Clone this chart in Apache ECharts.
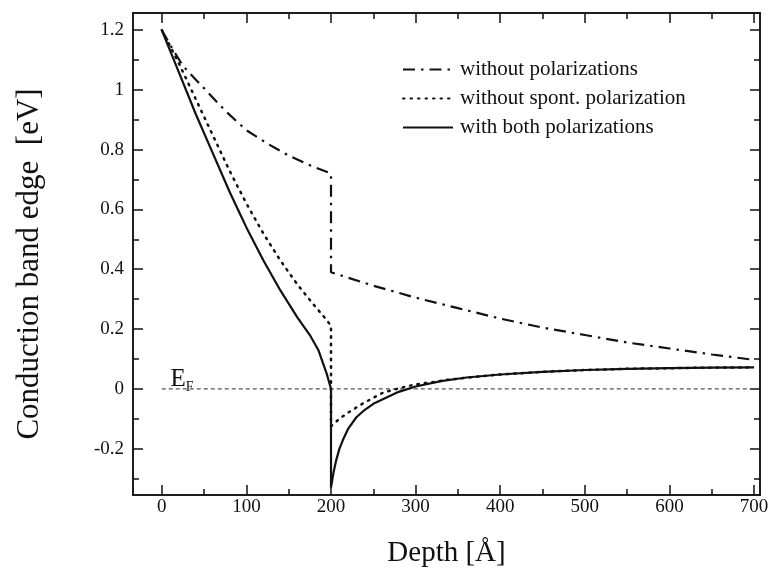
<!DOCTYPE html>
<html lang="en">
<head>
    <meta charset="UTF-8">
    <title>Conduction band edge vs depth</title>
    <style>
        body { margin: 0; background: #fff; }
        #chart { width: 772px; height: 573px; }
    </style>
</head>
<body>
    <div id="chart"></div>
    <script src="https://cdn.jsdelivr.net/npm/echarts@6.0.0/dist/echarts.min.js"></script>
    <script>
        // Data (depth in Angstrom, energy in eV)
        const depthNoPol = [0, 10, 25, 50, 75, 100, 125, 150, 175, 200, 200, 250, 300, 350, 400, 450, 500, 550, 600, 650, 700];
        const edgeNoPol = [1.2, 1.15, 1.08, 1.005, 0.93, 0.865, 0.82, 0.78, 0.748, 0.72, 0.39, 0.345, 0.305, 0.27, 0.235, 0.205, 0.18, 0.155, 0.135, 0.115, 0.097];

        const depthNoSpont = [0, 20, 40, 60, 80, 100, 120, 140, 160, 180, 195, 200, 200, 210, 220, 237, 250, 262, 278, 292, 305, 321, 337, 380, 400, 450, 500, 550, 600, 650, 700];
        const edgeNoSpont = [1.2, 1.09, 0.97, 0.85, 0.73, 0.62, 0.52, 0.43, 0.35, 0.28, 0.23, 0.21, -0.125, -0.1, -0.08, -0.05, -0.03, -0.012, 0.0, 0.01, 0.017, 0.023, 0.03, 0.043, 0.048, 0.057, 0.063, 0.067, 0.069, 0.071, 0.072];

        const depthBoth = [0, 20, 40, 60, 80, 90, 100, 120, 140, 160, 175, 185, 195, 200, 200, 203, 206, 210, 215, 220, 230, 240, 250, 265, 280, 300, 330, 360, 400, 450, 500, 550, 600, 650, 700];
        const edgeBoth = [1.2, 1.06, 0.92, 0.79, 0.66, 0.6, 0.54, 0.43, 0.33, 0.24, 0.18, 0.13, 0.05, 0.0, -0.33, -0.28, -0.24, -0.2, -0.165, -0.135, -0.095, -0.07, -0.05, -0.03, -0.01, 0.008, 0.026, 0.038, 0.048, 0.057, 0.063, 0.067, 0.069, 0.071, 0.072];

        const fermiDepth = [0, 700];
        const fermiLevel = [0, 0];

        const seriesNames = ['without polarizations', 'without spont. polarization', 'with both polarizations'];
        const xMajor = [0, 100, 200, 300, 400, 500, 600, 700];
        const xMinor = [50, 150, 250, 350, 450, 550, 650];
        const yMajor = [-0.2, 0, 0.2, 0.4, 0.6, 0.8, 1, 1.2];
        const yMinor = [-0.3, -0.1, 0.1, 0.3, 0.5, 0.7, 0.9, 1.1];

        const pairs = (xs, ys) => xs.map((x, i) => [x, ys[i]]);
        const serif = 'Liberation Serif';
        const ink = '#111';

        const xRange = { min: -34, max: 707 };
        const yRange = { min: -0.355, max: 1.257 };

        function xAxisDef(pos, ticks, len, labels) {
            return {
                type: 'value', position: pos, ...xRange,
                splitLine: { show: false },
                axisLine: { show: true, onZero: false, lineStyle: { color: ink, width: 1.5 } },
                axisTick: { show: true, inside: true, length: len, customValues: ticks, lineStyle: { color: ink, width: 1.5 } },
                axisLabel: labels ? { show: true, customValues: ticks, fontFamily: serif, fontSize: 19, color: ink, margin: 3 } : { show: false }
            };
        }
        function yAxisDef(pos, ticks, len, labels) {
            return {
                type: 'value', position: pos, ...yRange,
                splitLine: { show: false },
                axisLine: { show: true, onZero: false, lineStyle: { color: ink, width: 1.5 } },
                axisTick: { show: true, inside: true, length: len, customValues: ticks, lineStyle: { color: ink, width: 1.5 } },
                axisLabel: labels ? { show: true, customValues: ticks, fontFamily: serif, fontSize: 19, color: ink, margin: 9 } : { show: false }
            };
        }

        const xAxes = [
            Object.assign(xAxisDef('bottom', xMajor, 10, true), {
                name: 'Depth [Å]', nameLocation: 'middle', nameGap: 44,
                nameTextStyle: { fontFamily: serif, fontSize: 29, color: ink }
            }),
            xAxisDef('bottom', xMinor, 6, false),
            xAxisDef('top', xMajor, 10, false),
            xAxisDef('top', xMinor, 6, false)
        ];
        const yAxes = [
            Object.assign(yAxisDef('left', yMajor, 10, true), {
                name: 'Conduction band edge  [eV]', nameLocation: 'middle', nameGap: 88,
                nameTextStyle: { fontFamily: serif, fontSize: 31, color: ink, padding: [0, 20, 0, 0] }
            }),
            yAxisDef('left', yMinor, 6, false),
            yAxisDef('right', yMajor, 10, false),
            yAxisDef('right', yMinor, 6, false)
        ];

        const chart = echarts.init(document.getElementById('chart'), null, { renderer: 'canvas' });
        chart.setOption({
            backgroundColor: '#fff',
            animation: false,
            grid: { left: 133, right: 12, top: 13, bottom: 76, containLabel: false },
            legend: {
                orient: 'vertical', left: 397, top: 54,
                itemWidth: 50, itemHeight: 14, itemGap: 8,
                data: seriesNames,
                itemStyle: { opacity: 0 },
                textStyle: { fontFamily: serif, fontSize: 21, color: ink, padding: [0, 0, 0, 2] }
            },
            xAxis: xAxes,
            yAxis: yAxes,
            series: [
                {
                    name: 'Ef', type: 'line', symbol: 'none', silent: true,
                    data: pairs(fermiDepth, fermiLevel),
                    lineStyle: { color: '#555', width: 1.3, type: [4, 3] },
                    markPoint: {
                        symbol: 'rect', symbolSize: 2,
                        itemStyle: { color: 'rgba(0,0,0,0)' },
                        data: [{ coord: [24, 0] }],
                        label: {
                            show: true, position: 'top', distance: -6,
                            fontFamily: serif, fontSize: 25, color: ink,
                            formatter: '{e|E}{f|F}',
                            rich: {
                                e: { fontFamily: serif, fontSize: 25, color: ink },
                                f: { fontFamily: serif, fontSize: 14, color: ink, padding: [14, 0, 0, 0] }
                            }
                        }
                    }
                },
                {
                    name: seriesNames[0], type: 'line', symbol: 'none',
                    data: pairs(depthNoPol, edgeNoPol),
                    lineStyle: { color: ink, width: 2.2, type: [12, 6, 2.5, 6] },
                    itemStyle: { color: ink }
                },
                {
                    name: seriesNames[1], type: 'line', symbol: 'none',
                    data: pairs(depthNoSpont, edgeNoSpont),
                    lineStyle: { color: ink, width: 2.5, type: [1.5, 6], cap: 'round' },
                    itemStyle: { color: ink }
                },
                {
                    name: seriesNames[2], type: 'line', symbol: 'none',
                    data: pairs(depthBoth, edgeBoth),
                    lineStyle: { color: ink, width: 2.2 },
                    itemStyle: { color: ink }
                }
            ]
        });
    </script>
</body>
</html>
